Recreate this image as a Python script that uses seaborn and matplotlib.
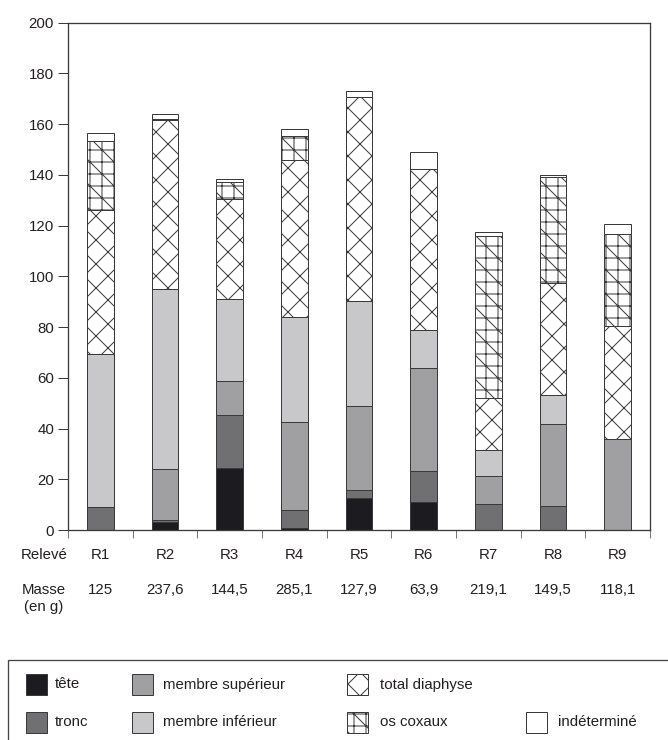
import numpy as np
import pandas as pd
import matplotlib
matplotlib.use("Agg")
import matplotlib.pyplot as plt
from matplotlib.patches import Rectangle
import matplotlib.transforms as mtransforms
import seaborn as sns

# ---------------- data ----------------
categories = ["R1", "R2", "R3", "R4", "R5", "R6", "R7", "R8", "R9"]
masses = ["125", "237,6", "144,5", "285,1", "127,9", "63,9", "219,1", "149,5", "118,1"]

tete = [0, 3.3, 24.3, 0.7, 12.5, 11.2, 0, 0, 0]
tronc = [9.2, 0.6, 21.2, 7.2, 3.2, 12.2, 10.1, 9.6, 0]
membre_sup = [0, 20.0, 13.2, 34.5, 33.1, 40.6, 11.3, 32.1, 35.7]
membre_inf = [60.0, 71.0, 32.2, 41.6, 41.5, 15.0, 10.1, 11.4, 0]
diaphyse = [57.0, 66.6, 39.7, 61.7, 80.3, 63.4, 20.7, 44.4, 44.7]
os_coxaux = [27.1, 0.5, 6.5, 9.8, 0, 0, 63.9, 41.6, 36.1]
indetermine = [3.3, 2.0, 1.3, 2.6, 2.6, 6.8, 1.4, 0.9, 4.2]

series_names = ["tête", "tronc", "membre supérieur", "membre inférieur",
                "total diaphyse", "os coxaux", "indéterminé"]
series_values = [tete, tronc, membre_sup, membre_inf, diaphyse, os_coxaux, indetermine]

# ---------------- style ----------------
colors = {
    "tête": "#1c1b1f",
    "tronc": "#707072",
    "membre supérieur": "#a0a0a2",
    "membre inférieur": "#c8c8ca",
    "total diaphyse": "#ffffff",
    "os coxaux": "#ffffff",
    "indéterminé": "#ffffff",
}
hatches = {"total diaphyse": "x", "os coxaux": "+\\"}
EDGE = "#3a3a3a"
TXT = "#231f20"
FS = 15

sns.set_style("ticks")
plt.rcParams["font.family"] = ["Liberation Sans", "DejaVu Sans"]
plt.rcParams["hatch.linewidth"] = 1.0
plt.rcParams["hatch.color"] = "#111111"

W, H = 668, 740
DPI = 72
fig = plt.figure(figsize=(W / DPI, H / DPI), dpi=DPI)

def fx(px):
    return px / W

def fy(py):
    return 1 - py / H

ax = fig.add_axes([fx(68), fy(530), fx(650) - fx(68), (530 - 22.7) / H])

bottom = np.zeros(len(categories))
for name, vals in zip(series_names, series_values):
    n0 = len(ax.patches)
    sns.barplot(x=categories, y=vals, bottom=bottom, color=colors[name],
                saturation=1, edgecolor=EDGE, linewidth=1.0, width=0.41,
                ax=ax)
    if name in hatches:
        for p in ax.patches[n0:]:
            p.set_hatch(hatches[name])
    bottom = bottom + np.array(vals)

ax.set_xlim(-0.5, len(categories) - 0.5)
ax.set_ylim(0, 200)
ax.set_yticks(np.arange(0, 201, 20))
ax.set_xticks(np.arange(-0.5, len(categories), 1.0))
ax.set_xticklabels([])
ax.set_xlabel("")
ax.set_ylabel("")
for s in ax.spines.values():
    s.set_visible(True)
    s.set_color(EDGE)
    s.set_linewidth(1.3)
ax.tick_params(axis="y", length=10, width=1.0, color=EDGE, labelsize=FS,
               labelcolor=TXT, pad=4)
ax.tick_params(axis="x", length=8, width=1.0, color="#777777")

# category and mass rows
trans = mtransforms.blended_transform_factory(ax.transData, fig.transFigure)
for i, (c, m) in enumerate(zip(categories, masses)):
    ax.text(i, fy(555), c, transform=trans, ha="center", va="center",
            fontsize=FS, color=TXT)
    ax.text(i, fy(590), m, transform=trans, ha="center", va="center",
            fontsize=FS, color=TXT)
fig.text(fx(21.0), fy(555), "Relevé", ha="left", va="center", fontsize=FS, color=TXT)
fig.text(fx(44), fy(598.5), "Masse\n(en g)", ha="center", va="center",
         fontsize=FS, color=TXT, linespacing=1.2, multialignment="center")

# legend box
fig.patches.append(Rectangle((fx(8.3), fy(760)), fx(700) - fx(8.3), (760 - 660) / H,
                             transform=fig.transFigure, facecolor="none",
                             edgecolor="#444444", linewidth=1.3, clip_on=False))

legend_items = [
    ("tête", 26, 684.5, 55),
    ("tronc", 26, 722, 55),
    ("membre supérieur", 132, 684.5, 163),
    ("membre inférieur", 132, 722, 163),
    ("total diaphyse", 347, 684.5, 380),
    ("os coxaux", 347, 722, 380),
    ("indéterminé", 526, 722, 558),
]
for name, px, py, tx in legend_items:
    size = 21
    r = Rectangle((fx(px), fy(py + size / 2)), size / W, size / H,
                  transform=fig.transFigure, facecolor=colors[name],
                  edgecolor=EDGE, linewidth=1.0, hatch=hatches.get(name, None))
    fig.patches.append(r)
    fig.text(fx(tx), fy(py), name, ha="left", va="center", fontsize=FS, color=TXT)

fig.savefig("out.png", dpi=DPI)
